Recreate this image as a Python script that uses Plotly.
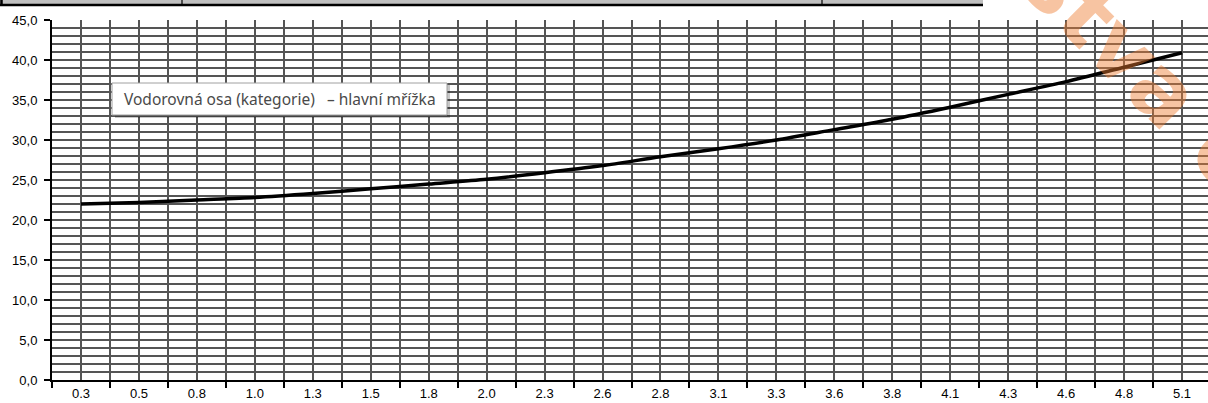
import plotly.graph_objects as go

# ---- data ----
categories = ["0.3", "0.5", "0.8", "1.0", "1.3", "1.5", "1.8", "2.0", "2.3", "2.6",
              "2.8", "3.1", "3.3", "3.6", "3.8", "4.1", "4.3", "4.6", "4.8", "5.1"]
values = [22.0, 22.2, 22.5, 22.8, 23.3, 23.9, 24.5, 25.1, 25.9, 26.8,
          27.9, 28.9, 30.0, 31.3, 32.6, 34.1, 35.7, 37.3, 39.1, 40.9]
y_ticks = [0, 5, 10, 15, 20, 25, 30, 35, 40, 45]
tooltip_text = "Vodorovná osa (kategorie)   – hlavní mřížka"
watermark_text = "stva c"

# ---- layout constants ----
W, H = 1208, 403
L, R, T, B = 52, 0, 20, 23
PW, PH = W - L - R, H - T - B
CAT_W = 57.95

def px_x(px):
    return (px - L) / PW

def px_y(py):
    return (H - B - py) / PH

idx = list(range(len(categories)))
x_max = -0.5 + PW / CAT_W

grid_col = "#555555"
gw = 1.6
font_axis = dict(family="Liberation Sans, Arial, sans-serif", size=13, color="#000000")

fig = go.Figure()
fig.add_trace(go.Scatter(
    x=idx, y=values, mode="lines",
    line=dict(color="#000000", width=3.5, shape="spline", smoothing=0.8),
    hoverinfo="skip", showlegend=False,
))

fig.update_layout(
    width=W, height=H,
    margin=dict(l=L, r=R, t=T, b=B, pad=0),
    paper_bgcolor="white", plot_bgcolor="white",
    separators=", ",
    showlegend=False,
    xaxis=dict(
        range=[-0.5, x_max], tickmode="array", tickvals=idx, ticktext=categories,
        ticks="", showgrid=True, gridcolor=grid_col, gridwidth=gw,
        showline=True, linecolor="#000000", linewidth=2,
        zeroline=False, tickfont=font_axis,
        minor=dict(tick0=-0.5, dtick=1, ticks="outside", ticklen=6, tickcolor="#000000",
                   tickwidth=1.5, showgrid=True, gridcolor=grid_col, gridwidth=gw),
        fixedrange=True,
    ),
    yaxis=dict(
        range=[0, 45], tickmode="array", tickvals=y_ticks, tickformat=".1f",
        ticks="outside", ticklen=6, tickcolor="#000000", tickwidth=1.5,
        showgrid=True, gridcolor=grid_col, gridwidth=gw,
        showline=True, linecolor="#000000", linewidth=2,
        zeroline=False, tickfont=font_axis, ticklabelstandoff=4,
        minor=dict(dtick=1, showgrid=True, gridcolor=grid_col, gridwidth=gw, ticks=""),
        fixedrange=True,
    ),
)

shapes = []
# header strip at top (cropped table)
shapes.append(dict(type="rect", xref="paper", yref="paper",
                   x0=px_x(0), x1=px_x(983), y0=px_y(5), y1=px_y(-2),
                   fillcolor="#c0c0c0", line=dict(width=0), layer="above"))
shapes.append(dict(type="line", xref="paper", yref="paper",
                   x0=px_x(0), x1=px_x(983), y0=px_y(5), y1=px_y(5),
                   line=dict(color="#000000", width=2.5), layer="above"))
shapes.append(dict(type="line", xref="paper", yref="paper",
                   x0=px_x(1.5), x1=px_x(1.5), y0=px_y(5), y1=px_y(-2),
                   line=dict(color="#000000", width=2.5), layer="above"))
for dx in (182, 822):
    shapes.append(dict(type="line", xref="paper", yref="paper",
                       x0=px_x(dx), x1=px_x(dx), y0=px_y(5), y1=px_y(-2),
                       line=dict(color="#000000", width=1.2), layer="above"))
# tooltip shadow and box
shapes.append(dict(type="rect", xref="paper", yref="paper",
                   x0=px_x(115), x1=px_x(450), y0=px_y(118), y1=px_y(85),
                   fillcolor="rgba(0,0,0,0.22)", line=dict(width=0), layer="above"))
shapes.append(dict(type="rect", xref="paper", yref="paper",
                   x0=px_x(112), x1=px_x(447), y0=px_y(115), y1=px_y(83),
                   fillcolor="#ffffff", line=dict(color="#a0a0a0", width=1), layer="above"))
fig.update_layout(shapes=shapes)

fig.add_annotation(
    xref="paper", yref="paper", x=px_x(280), y=px_y(99),
    xanchor="center", yanchor="middle", showarrow=False,
    text=tooltip_text,
    font=dict(family="Noto Sans, Open Sans, sans-serif", size=15.5, color="#4a4a4a"),
)

fig.add_annotation(
    xref="paper", yref="paper", x=px_x(1140), y=px_y(68),
    xanchor="center", yanchor="middle", showarrow=False,
    text="<b>" + watermark_text + "</b>", textangle=45,
    font=dict(family="DejaVu Sans, sans-serif", size=88,
              color="rgba(237,125,49,0.45)"),
)

fig.write_html("out.html", config={"displayModeBar": False},
               post_script="document.body.style.margin='0px';")
